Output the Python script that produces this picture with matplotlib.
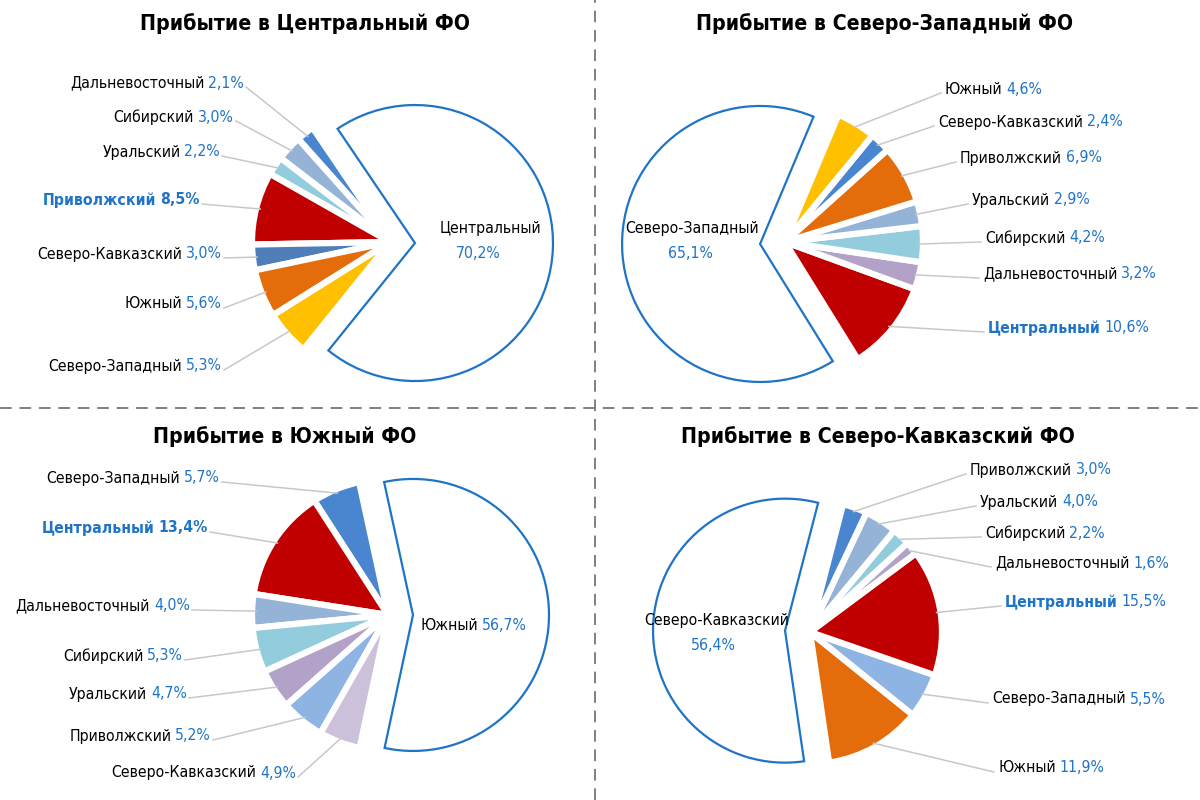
import os
import matplotlib
matplotlib.use('Agg')
import matplotlib.pyplot as plt
from matplotlib import font_manager as fm
import numpy as np

# ---- data ----
c_names = ['Центральный', 'Дальневосточный', 'Сибирский', 'Уральский', 'Приволжский',
           'Северо-Кавказский', 'Южный', 'Северо-Западный']
c_vals = [70.2, 2.1, 3.0, 2.2, 8.5, 3.0, 5.6, 5.3]
c_colors = ['white', '#4A86D0', '#95B3D7', '#93CDDD', '#C00000', '#4F7EBB', '#E46C0A', '#FFC000']

nw_names = ['Северо-Западный', 'Центральный', 'Дальневосточный', 'Сибирский', 'Уральский',
            'Приволжский', 'Северо-Кавказский', 'Южный']
nw_vals = [65.1, 10.6, 3.2, 4.2, 2.9, 6.9, 2.4, 4.6]
nw_colors = ['white', '#C00000', '#B3A2C7', '#93CDDD', '#95B3D7', '#E46C0A', '#4A86D0', '#FFC000']

s_names = ['Южный', 'Северо-Западный', 'Центральный', 'Дальневосточный', 'Сибирский',
           'Уральский', 'Приволжский', 'Северо-Кавказский']
s_vals = [56.7, 5.7, 13.4, 4.0, 5.3, 4.7, 5.2, 4.9]
s_colors = ['white', '#4A86D0', '#C00000', '#95B3D7', '#93CDDD', '#B3A2C7', '#8EB4E3', '#CCC1DA']

nc_names = ['Северо-Кавказский', 'Южный', 'Северо-Западный', 'Центральный', 'Дальневосточный',
            'Сибирский', 'Уральский', 'Приволжский']
nc_vals = [56.4, 11.9, 5.5, 15.5, 1.6, 2.2, 4.0, 3.0]
nc_colors = ['white', '#E46C0A', '#8EB4E3', '#C00000', '#B3A2C7', '#93CDDD', '#95B3D7', '#4A86D0']

titles = ['Прибытие в Центральный ФО', 'Прибытие в Северо-Западный ФО',
          'Прибытие в Южный ФО', 'Прибытие в Северо-Кавказский ФО']

BLUE = '#1F74C6'
LINE = '#C8C8C8'
H = 800


# narrow font if one is installed, else plain DejaVu a bit smaller
def pick(files):
    have = {os.path.basename(f.fname): f.fname for f in fm.fontManager.ttflist}
    for n in files:
        if n in have:
            return have[n]
    return None


reg_file = pick(['LiberationSansNarrow-Regular.ttf', 'NotoSans-Condensed.ttf',
                 'DejaVuSansCondensed.ttf', 'RobotoCondensed-Regular.ttf',
                 'NotoSans-SemiCondensed.ttf'])
bold_file = pick(['LiberationSansNarrow-Bold.ttf', 'NotoSans-CondensedBold.ttf',
                  'DejaVuSansCondensed-Bold.ttf', 'RobotoCondensed-Bold.ttf',
                  'NotoSans-SemiCondensedBold.ttf'])
narrow = reg_file is not None and bold_file is not None
FS = 11.3 if narrow else 9.8
TFS = 15.2 if narrow else 13.5


def fp(bold=False, size=FS):
    if narrow:
        return fm.FontProperties(fname=bold_file if bold else reg_file, size=size)
    return fm.FontProperties(family='DejaVu Sans', weight='bold' if bold else 'normal', size=size)


# layout of each chart (image pixel coords, y down)
charts = [
    dict(names=c_names, vals=c_vals, colors=c_colors, title=titles[0], tpos=(305, 24),
         center=(390, 242), r=138, mid=-2.5, side='left',
         labels=[(244, 83), (234, 117), (220, 152), (200, 200), (222, 254), (222, 304), (222, 366)],
         bold={'Приволжский': True}, inner=[(490, 228), (478, 253)]),
    dict(names=nw_names, vals=nw_vals, colors=nw_colors, title=titles[1], tpos=(885, 24),
         center=(785, 242), r=138, mid=184.4, side='right',
         labels=[(988, 328), (983, 274), (985, 238), (972, 200), (960, 158), (938, 122), (945, 89)],
         bold={'Центральный': False}, inner=[(692, 228), (690, 254)]),
    dict(names=s_names, vals=s_vals, colors=s_colors, title=titles[2], tpos=(285, 437),
         center=(388, 615), r=136, mid=0.0, side='left',
         labels=[(220, 478), (208, 528), (190, 606), (183, 656), (187, 694), (211, 736), (296, 773)],
         bold={'Центральный': True}, inner=[(480, 625)]),
    dict(names=nc_names, vals=nc_vals, colors=nc_colors, title=titles[3], tpos=(878, 437),
         center=(810, 632), r=132, mid=177.0, side='right',
         labels=[(998, 768), (992, 699), (1005, 602), (995, 563), (985, 533), (980, 502), (970, 470)],
         bold={'Центральный': False}, inner=[(717, 621), (713, 646)]),
]


def pct(v):
    return ('%.1f' % v).replace('.', ',') + '%'


fig = plt.figure(figsize=(12, 8), dpi=100)
ax = fig.add_axes([0, 0, 1, 1])
renderer = fig.canvas.get_renderer()

for ch in charts:
    vals = ch['vals']
    cx, cy = ch['center']
    r = ch['r']
    start = ch['mid'] - vals[0] * 3.6 / 2
    explode = [25] + [0] * (len(vals) - 1)   # offset in pixels
    wedges, _ = ax.pie(vals, colors=ch['colors'], startangle=start, counterclock=True,
                       center=(cx, H - cy), radius=r, explode=explode, frame=True,
                       wedgeprops=dict(edgecolor='white', linewidth=4.5))
    wedges[0].set_edgecolor(BLUE)
    wedges[0].set_linewidth(1.6)
    wedges[0].set_zorder(3)

    # labels of small slices
    for w, name, v, (lx, ly) in zip(wedges[1:], ch['names'][1:], vals[1:], ch['labels']):
        hl = name in ch['bold']
        name_kw = dict(color=BLUE, fontproperties=fp(True)) if hl else dict(color='black', fontproperties=fp())
        pct_kw = dict(color=BLUE, fontproperties=fp(hl and ch['bold'][name]))
        y = H - ly
        if ch['side'] == 'left':
            t2 = ax.text(lx, y, pct(v), ha='right', va='center', **pct_kw)
            wd = t2.get_window_extent(renderer).width
            ax.text(lx - wd - 4, y, name, ha='right', va='center', **name_kw)
            ex = lx + 2
        else:
            t1 = ax.text(lx, y, name, ha='left', va='center', **name_kw)
            wd = t1.get_window_extent(renderer).width
            ax.text(lx + wd + 4, y, pct(v), ha='left', va='center', **pct_kw)
            ex = lx - 4
        a = np.deg2rad((w.theta1 + w.theta2) / 2)
        px = w.center[0] + w.r * 0.97 * np.cos(a)
        py = w.center[1] + w.r * 0.97 * np.sin(a)
        ax.plot([px, ex], [py, y - 4], color=LINE, lw=1.1, zorder=1)

    # label inside the big white slice
    if len(ch['inner']) == 2:
        ax.text(ch['inner'][0][0], H - ch['inner'][0][1], ch['names'][0], ha='center',
                va='center', color='black', zorder=5, fontproperties=fp())
        ax.text(ch['inner'][1][0], H - ch['inner'][1][1], pct(vals[0]), ha='center',
                va='center', color=BLUE, zorder=5, fontproperties=fp())
    else:
        ix, iy = ch['inner'][0]
        ax.text(ix - 2, H - iy, ch['names'][0], ha='right', va='center',
                color='black', zorder=5, fontproperties=fp())
        ax.text(ix + 2, H - iy, pct(vals[0]), ha='left', va='center',
                color=BLUE, zorder=5, fontproperties=fp())

    ax.text(ch['tpos'][0], H - ch['tpos'][1], ch['title'], ha='center', va='center',
            color='black', fontproperties=fp(True, TFS))

# separators
ax.plot([595, 595], [0, H], color='#7F7F7F', lw=1.4, ls=(0, (6, 4)), zorder=0)
ax.plot([0, 1200], [H - 408, H - 408], color='#7F7F7F', lw=1.4, ls=(0, (6, 4)), zorder=0)

ax.set_xlim(0, 1200)
ax.set_ylim(0, H)
ax.set_aspect('equal')
ax.axis('off')

fig.savefig('out.png', dpi=100)
